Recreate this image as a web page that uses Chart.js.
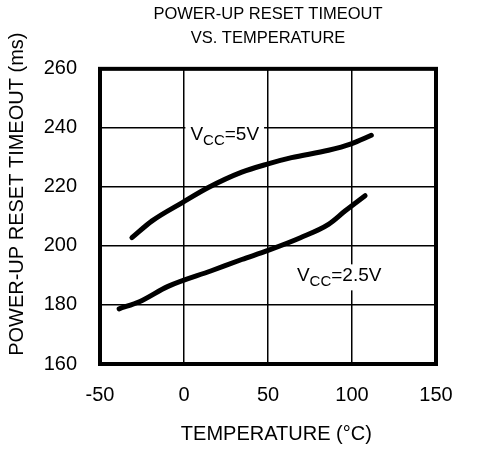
<!DOCTYPE html>
<html>
<head>
<meta charset="utf-8">
<script src="https://cdn.jsdelivr.net/npm/chart.js@4/dist/chart.umd.min.js"></script>
<style>
  html, body { margin: 0; padding: 0; background: #fff; }
  #wrap { width: 482px; height: 449px; }
</style>
</head>
<body>
<div id="wrap"><canvas id="chart" width="482" height="449"></canvas></div>
<script>
// data
const tempsVcc5 = [-31, -19, -1, 14.5, 34.4, 50, 64, 86, 99.5, 111.5];
const timeoutVcc5 = [202.8, 208.5, 214.7, 219.8, 225, 227.8, 229.9, 232.4, 234.6, 237.5];
const tempsVcc25 = [-38.6, -26.2, -9.5, 16.3, 34.4, 50, 69.3, 86, 96, 107.8];
const timeoutVcc25 = [178.7, 181.2, 186.3, 191.6, 195.4, 198.5, 202.8, 207.3, 211.9, 217];
const xTicks = [-50, 0, 50, 100, 150];
const yTicks = [160, 180, 200, 220, 240, 260];

// curve labels: [main, subscript, rest], anchored at (temp, timeout) = left/baseline
const curveLabels = [
    { parts: ['V', 'CC', '=5V'], x: 3.8, y: 235.8 },
    { parts: ['V', 'CC', '=2.5V'], x: 67.2, y: 188 }
];

const FONT = "'Liberation Sans', Arial, Helvetica, sans-serif";

function toPoints(xs, ys) {
    return xs.map(function(x, i) { return { x: x, y: ys[i] }; });
}

// white-boxed V_CC labels, drawn over the grid but under the curves
const labelPlugin = {
    id: 'curveLabels',
    beforeDatasetsDraw: function(chart) {
        var ctx = chart.ctx;
        var xs = chart.scales.x, ys = chart.scales.y;
        ctx.save();
        curveLabels.forEach(function(lab) {
            var px = xs.getPixelForValue(lab.x);
            var py = ys.getPixelForValue(lab.y);
            ctx.font = '19px ' + FONT;
            var w1 = ctx.measureText(lab.parts[0]).width;
            var w3 = ctx.measureText(lab.parts[2]).width;
            ctx.font = '15px ' + FONT;
            var w2 = ctx.measureText(lab.parts[1]).width;
            var total = w1 + w2 + w3;
            ctx.fillStyle = '#fff';
            ctx.fillRect(px - 5, py - 17, total + 10, 26);
            ctx.fillStyle = '#000';
            ctx.textBaseline = 'alphabetic';
            ctx.textAlign = 'left';
            ctx.font = '19px ' + FONT;
            ctx.fillText(lab.parts[0], px, py);
            ctx.font = '15px ' + FONT;
            ctx.fillText(lab.parts[1], px + w1, py + 5);
            ctx.font = '19px ' + FONT;
            ctx.fillText(lab.parts[2], px + w1 + w2, py);
        });
        ctx.restore();
    }
};

// heavy frame round the plot area
const framePlugin = {
    id: 'frame',
    afterDatasetsDraw: function(chart) {
        var a = chart.chartArea;
        var ctx = chart.ctx;
        ctx.save();
        ctx.strokeStyle = '#000';
        ctx.lineWidth = 4;
        ctx.strokeRect(a.left, a.top, a.right - a.left, a.bottom - a.top);
        ctx.restore();
    }
};

var lineStyle = {
    borderColor: '#000',
    borderWidth: 5,
    pointRadius: 0,
    fill: false,
    tension: 0.4,
    cubicInterpolationMode: 'monotone',
    borderCapStyle: 'round',
    borderJoinStyle: 'round'
};

new Chart(document.getElementById('chart').getContext('2d'), {
    type: 'line',
    data: {
        datasets: [
            Object.assign({ label: 'VCC=5V', data: toPoints(tempsVcc5, timeoutVcc5) }, lineStyle),
            Object.assign({ label: 'VCC=2.5V', data: toPoints(tempsVcc25, timeoutVcc25) }, lineStyle)
        ]
    },
    options: {
        responsive: false,
        animation: false,
        layout: { padding: { left: 0, right: 46, top: 0, bottom: 0 } },
        plugins: {
            legend: { display: false },
            tooltip: { enabled: false },
            title: {
                display: true,
                fullSize: false,
                text: ['POWER-UP RESET TIMEOUT', 'VS. TEMPERATURE'],
                color: '#000',
                font: { family: FONT, size: 16.5, weight: 'normal', lineHeight: 1.48 },
                padding: { top: 2, bottom: 18 }
            }
        },
        scales: {
            x: {
                type: 'linear',
                min: -50,
                max: 150,
                afterBuildTicks: function(scale) { scale.ticks = xTicks.map(function(v) { return { value: v }; }); },
                afterFit: function(scale) { scale.height = 85; },
                grid: { color: '#000', lineWidth: 1.5, drawTicks: false },
                border: { display: false },
                ticks: { color: '#000', padding: 19, font: { family: FONT, size: 20 } },
                title: {
                    display: true,
                    // leading spaces nudge the title right, as in the original
                    text: '   TEMPERATURE (°C)',
                    color: '#000',
                    font: { family: FONT, size: 20 },
                    padding: { top: 0, bottom: 3 }
                }
            },
            y: {
                type: 'linear',
                min: 160,
                max: 260,
                afterBuildTicks: function(scale) { scale.ticks = yTicks.map(function(v) { return { value: v }; }); },
                afterFit: function(scale) { scale.width = 100; },
                grid: { color: '#000', lineWidth: 1.5, drawTicks: false },
                border: { display: false },
                ticks: { color: '#000', padding: 23, font: { family: FONT, size: 20 } },
                title: {
                    display: true,
                    // leading spaces nudge the rotated title up, as in the original
                    text: '        POWER-UP RESET TIMEOUT (ms)',
                    color: '#000',
                    font: { family: FONT, size: 20 },
                    padding: { top: 5, bottom: 0 }
                }
            }
        }
    },
    plugins: [labelPlugin, framePlugin]
});
</script>
</body>
</html>
